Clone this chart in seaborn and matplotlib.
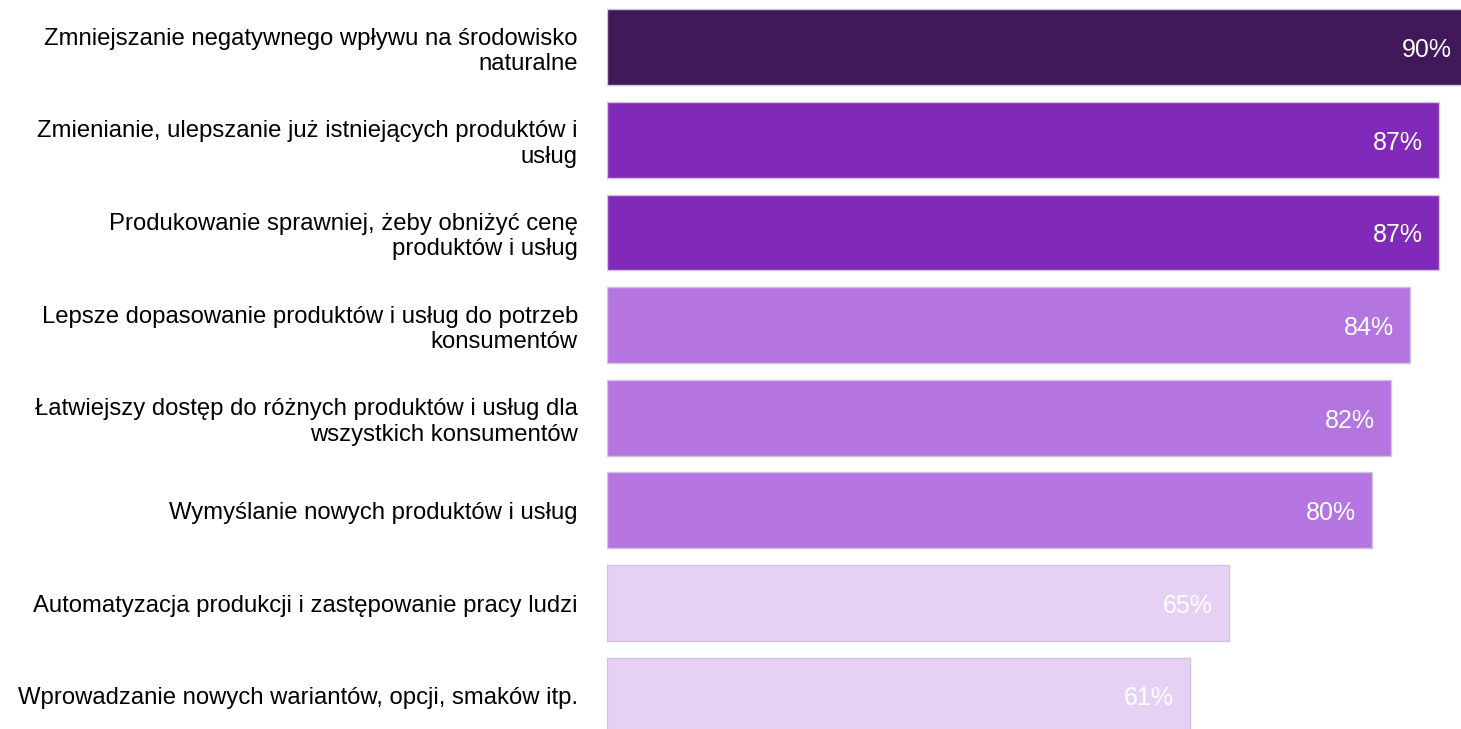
import matplotlib
matplotlib.use("Agg")
import matplotlib.pyplot as plt
import seaborn as sns
import pandas as pd

categories = [
    "Zmniejszanie negatywnego wpływu na środowisko\nnaturalne",
    "Zmienianie, ulepszanie już istniejących produktów i\nusług",
    "Produkowanie sprawniej, żeby obniżyć cenę\nproduktów i usług",
    "Lepsze dopasowanie produktów i usług do potrzeb\nkonsumentów",
    "Łatwiejszy dostęp do różnych produktów i usług dla\nwszystkich konsumentów",
    "Wymyślanie nowych produktów i usług",
    "Automatyzacja produkcji i zastępowanie pracy ludzi",
    "Wprowadzanie nowych wariantów, opcji, smaków itp.",
]
values = [90, 87, 87, 84, 82, 80, 65, 61]
colors = ["#41185a", "#8129b9", "#8129b9", "#b575e0", "#b575e0", "#b575e0",
          "#e6d1f4", "#e6d1f4"]

df = pd.DataFrame({"category": categories, "value": values})

sns.set_theme(style="white")
plt.rcParams["font.family"] = ["Liberation Sans", "DejaVu Sans"]

fig = plt.figure(figsize=(14.61, 7.29), dpi=100)
ax = fig.add_axes([0.4155, 0.0, 0.5845, 1.0])

sns.barplot(data=df, x="value", y="category", hue="category",
            palette=dict(zip(categories, colors)), legend=False,
            saturation=1, width=0.82, edgecolor="#d2c2de", linewidth=1.0,
            ax=ax)

ax.set_xlim(0, 89.3)
ax.set_ylim(7.36, -0.51)

for i, v in enumerate(values):
    ax.text(v - 1.7, i + 0.03, f"{v}%", ha="right", va="center", color="white",
            fontsize=18, clip_on=False)

ax.set_xlabel("")
ax.set_ylabel("")
ax.set_xticks([])
ax.tick_params(axis="y", length=0, pad=21, labelsize=17.2, labelcolor="black")
for lbl in ax.get_yticklabels():
    lbl.set_multialignment("right")
    lbl.set_linespacing(1.2)
sns.despine(ax=ax, left=True, bottom=True)

fig.savefig("out.png", dpi=100)
